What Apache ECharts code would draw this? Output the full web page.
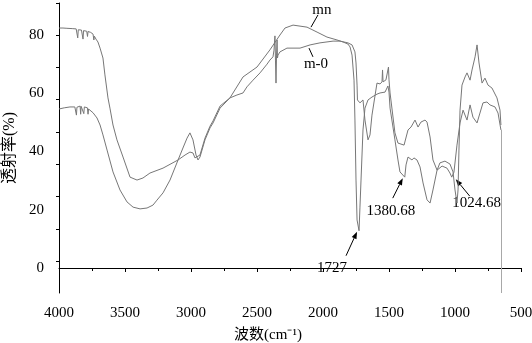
<!DOCTYPE html>
<html>
<head>
<meta charset="utf-8">
<script src="https://cdn.jsdelivr.net/npm/echarts@6/dist/echarts.min.js"></script>
<style>
  html, body { margin: 0; padding: 0; background: #fff; }
  #chart { width: 532px; height: 343px; }
</style>
</head>
<body>
<div id="chart"></div>
<script>
// FT-IR transmittance spectra: wavenumber (cm^-1) vs transmittance (%)
const yLabelValues = [0, 20, 40, 60, 80];
const yTickValues = [90.9, 80, 68.9, 57.8, 46.7, 35.6, 24.5, 13.4, 2.3];
const yRange = [-8.58, 90.99];
const xRange = [500, 4000];

const mnSpectrum = [
  [4000, 82.4], [3970, 82.4], [3940, 82.3], [3900, 82.2], [3870, 82.1], [3862, 81.9],
  [3858, 79.0], [3854, 81.8], [3830, 81.7], [3822, 81.6], [3818, 78.6], [3814, 81.5],
  [3800, 81.5], [3790, 81.3], [3784, 79.5], [3780, 81.2], [3760, 80.9], [3742, 80.3],
  [3736, 78.3], [3732, 79.6], [3720, 78.6], [3705, 77.6], [3689, 75.5], [3667, 72.1],
  [3652, 66.3], [3629, 58.4], [3614, 54.9], [3591, 49.1], [3561, 44.0], [3515, 38.1],
  [3462, 31.2], [3409, 30.2], [3364, 30.9], [3311, 32.6], [3212, 34.3], [3098, 37.1],
  [3045, 38.8], [3008, 39.8], [2985, 39.5], [2970, 37.8], [2955, 37.8], [2932, 38.8],
  [2894, 44.6], [2856, 48.7], [2833, 50.5], [2780, 55.6], [2705, 58.4], [2606, 65.6],
  [2500, 69.0], [2402, 74.9], [2326, 80.0], [2288, 82.4], [2227, 83.4], [2121, 82.7],
  [2045, 81.0], [1970, 79.3], [1894, 78.3], [1848, 77.6], [1811, 76.9], [1795, 75.9],
  [1780, 73.1], [1765, 64.5], [1758, 50.8], [1750, 30.2], [1742, 16.5], [1727, 12.8],
  [1720, 20.9], [1712, 30.2], [1697, 47.4], [1682, 54.9], [1659, 57.7], [1629, 58.7],
  [1591, 59.7], [1568, 60.1], [1530, 60.4], [1515, 60.8], [1508, 62.5], [1500, 60.4],
  [1492, 54.9], [1455, 44.0], [1432, 37.1], [1417, 33.0], [1380.68, 31.2], [1371, 35.4],
  [1356, 38.1], [1326, 37.1], [1311, 37.8], [1288, 37.1], [1265, 34.7], [1242, 29.2],
  [1212, 23.4], [1189, 22.3], [1167, 26.8], [1136, 33.6], [1098, 35.0], [1061, 34.3],
  [1038, 32.6], [1024.68, 31.2], [1008, 32.9], [985, 42.2], [962, 49.8], [939, 54.2],
  [909, 50.8], [886, 56.0], [864, 51.8], [833, 49.8], [811, 53.2], [788, 56.7],
  [758, 57.0], [735, 56.0], [697, 55.3], [674, 53.2], [652, 47.4]
];

const m0Spectrum = [
  [4000, 54.6], [3960, 55.0], [3917, 55.3], [3880, 55.3], [3872, 55.2], [3868, 52.5],
  [3864, 55.2], [3850, 55.6], [3840, 55.6], [3836, 52.8], [3832, 55.5], [3820, 55.5],
  [3812, 53.0], [3808, 55.3], [3795, 55.4], [3785, 55.0], [3780, 52.8], [3776, 54.6],
  [3765, 54.3], [3742, 53.3], [3712, 51.5], [3689, 49.1], [3667, 45.7], [3636, 40.5],
  [3591, 33.0], [3538, 26.8], [3485, 22.7], [3439, 20.9], [3386, 20.3], [3333, 20.6],
  [3288, 21.6], [3258, 23.3], [3212, 25.8], [3159, 30.2], [3098, 37.1], [3061, 41.2],
  [3030, 44.6], [3008, 46.4], [2985, 44.0], [2962, 38.8], [2947, 37.1], [2932, 38.1],
  [2894, 44.0], [2856, 48.1], [2833, 49.8], [2780, 54.9], [2705, 58.4], [2652, 59.4],
  [2606, 60.1], [2576, 62.2], [2530, 64.5], [2477, 67.0], [2424, 70.0], [2402, 71.4],
  [2379, 72.5], [2371, 74.8], [2364, 79.7], [2360, 71.4], [2356, 63.5], [2352, 73.1],
  [2348, 78.3], [2345, 72.1], [2341, 73.1], [2326, 74.2], [2273, 75.5], [2174, 75.5],
  [2098, 76.6], [2023, 77.3], [1924, 77.9], [1871, 77.9], [1811, 77.3], [1780, 76.6],
  [1758, 74.2], [1750, 70.4], [1742, 62.8], [1739, 57.7], [1720, 56.7], [1697, 57.7],
  [1682, 50.8], [1659, 44.0], [1644, 45.7], [1629, 52.5], [1591, 63.5], [1568, 63.2],
  [1553, 63.9], [1549, 68.0], [1545, 63.9], [1523, 64.6], [1508, 65.2], [1504, 69.0],
  [1500, 64.6], [1492, 60.1], [1455, 46.4], [1432, 42.9], [1386, 42.2], [1356, 47.4],
  [1333, 48.4], [1303, 50.8], [1280, 48.4], [1258, 50.1], [1227, 50.8], [1212, 50.1],
  [1189, 45.0], [1167, 37.1], [1136, 33.6], [1114, 36.1], [1076, 36.7], [1038, 35.7],
  [1015, 33.0], [1000, 26.8], [985, 22.3], [977, 26.8], [970, 40.5], [962, 54.2],
  [947, 62.8], [924, 65.6], [909, 67.0], [886, 64.5], [871, 68.0], [848, 72.5],
  [833, 76.6], [818, 70.4], [795, 63.5], [773, 65.2], [750, 62.8], [720, 61.8],
  [682, 58.4], [659, 54.2], [652, 49.1]
];

// labelled absorption bands on the mn spectrum
const bandLabels = ['1727', '1380.68', '1024.68'];
const bandWavenumbers = [1727, 1380.68, 1024.68];

// curve names with leader lines (data coordinates)
const curveNames = ['mn', 'm-0'];
const curveLeaderFrom = [[2091, 82.7], [2106, 75.5]];
const curveLeaderTo = [[2038, 86.9], [2076, 72.5]];
const curveNameAt = [[2008, 88.6], [2053, 70.0]];

const serif = '"Liberation Serif", "Times New Roman", serif';
const lineColor = '#777777';

const chart = echarts.init(document.getElementById('chart'), null, { renderer: 'canvas' });

const endPoint = mnSpectrum[mnSpectrum.length - 1];

chart.setOption({
  animation: false,
  backgroundColor: '#fff',
  grid: { left: 59, right: 11, top: 3, bottom: 50, containLabel: false, outerBoundsMode: 'none' },
  xAxis: {
    type: 'value',
    min: xRange[0],
    max: xRange[1],
    interval: 500,
    inverse: true,
    name: '波数(cm⁻¹)',
    nameLocation: 'middle',
    nameGap: 35,
    nameTextStyle: { fontFamily: serif + ', "Noto Sans CJK SC"', fontSize: 15, color: '#000', padding: [0, 44, 0, 0] },
    axisLine: { lineStyle: { color: '#000', width: 1 } },
    axisTick: { length: 4, lineStyle: { color: '#000' } },
    minorTick: { show: true, splitNumber: 2, length: 3, lineStyle: { color: '#000' } },
    axisLabel: { fontFamily: serif, fontSize: 15, color: '#000', margin: 13, formatter: v => String(v) },
    splitLine: { show: false }
  },
  yAxis: {
    type: 'value',
    min: yRange[0],
    max: yRange[1],
    name: '透射率(%)',
    nameLocation: 'middle',
    nameRotate: 90,
    nameGap: 37,
    nameTextStyle: { fontFamily: serif + ', "Noto Sans CJK SC"', fontSize: 16, color: '#000' },
    axisLine: { show: true, lineStyle: { color: '#000', width: 1 } },
    axisTick: { show: true, length: 3, customValues: yTickValues, lineStyle: { color: '#000' } },
    axisLabel: { fontFamily: serif, fontSize: 15, color: '#000', margin: 15, customValues: yLabelValues },
    splitLine: { show: false }
  },
  series: [
    {
      name: 'mn', type: 'line', data: mnSpectrum, showSymbol: false, smooth: false,
      lineStyle: { color: lineColor, width: 1 },
      markLine: {
        silent: true, symbol: 'none', label: { show: false },
        lineStyle: { color: '#a8a8a8', width: 1, type: 'solid' },
        data: [[{ coord: endPoint }, { coord: [endPoint[0], yRange[0]] }]]
      }
    },
    {
      name: 'm-0', type: 'line', data: m0Spectrum, showSymbol: false, smooth: false,
      lineStyle: { color: lineColor, width: 1 }
    }
  ]
});

// annotation geometry: pixel offsets of arrow tails and label centres from each band point
const bandTailOffset = [[-13, 25], [-12, 21], [18, 19]];
const bandTipOffset = [[-2, 1], [-2, 1], [4, 2]];
const bandTextOffset = [[-27, 37], [-14, 34], [25, 26]];

function px(pt) { return chart.convertToPixel({ gridIndex: 0 }, pt); }

const graphics = [];
bandWavenumbers.forEach((w, i) => {
  const pt = mnSpectrum.find(d => d[0] === w);
  const base = px(pt);
  const tip = [base[0] + bandTipOffset[i][0], base[1] + bandTipOffset[i][1]];
  const tail = [base[0] + bandTailOffset[i][0], base[1] + bandTailOffset[i][1]];
  const dx = tip[0] - tail[0], dy = tip[1] - tail[1];
  const len = Math.hypot(dx, dy);
  const ux = dx / len, uy = dy / len;
  const headLen = 7, headW = 2.6;
  const bx = tip[0] - ux * headLen, by = tip[1] - uy * headLen;
  graphics.push({
    type: 'line', silent: true,
    shape: { x1: tail[0], y1: tail[1], x2: bx, y2: by },
    style: { stroke: '#000', lineWidth: 1 }
  });
  graphics.push({
    type: 'polygon', silent: true,
    shape: { points: [tip, [bx - uy * headW, by + ux * headW], [bx + uy * headW, by - ux * headW]] },
    style: { fill: '#000' }
  });
  graphics.push({
    type: 'text', silent: true,
    x: base[0] + bandTextOffset[i][0], y: base[1] + bandTextOffset[i][1],
    style: { text: bandLabels[i], font: '15px ' + serif, fill: '#000', align: 'center', verticalAlign: 'middle' }
  });
});

curveNames.forEach((name, i) => {
  const a = px(curveLeaderFrom[i]);
  const b = px(curveLeaderTo[i]);
  const c = px(curveNameAt[i]);
  graphics.push({
    type: 'line', silent: true,
    shape: { x1: a[0], y1: a[1], x2: b[0], y2: b[1] },
    style: { stroke: '#000', lineWidth: 1 }
  });
  graphics.push({
    type: 'text', silent: true, x: c[0], y: c[1],
    style: { text: name, font: '15px ' + serif, fill: '#000', align: 'center', verticalAlign: 'middle' }
  });
});

chart.setOption({ graphic: graphics });
</script>
</body>
</html>
